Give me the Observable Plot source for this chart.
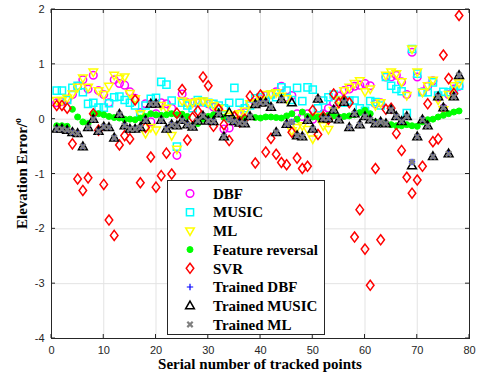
<!DOCTYPE html>
<html>
<head>
<meta charset="utf-8">
<script src="https://cdn.jsdelivr.net/npm/d3@7"></script>
<script src="https://cdn.jsdelivr.net/npm/@observablehq/plot@0.6"></script>
<style>
  html, body { margin: 0; padding: 0; background: #fff; }
  #chart { position: relative; width: 477px; height: 382px; }
</style>
</head>
<body>
<div id="chart"></div>
<script>
// ---- data ----
const serial = d3.range(1, 79);
const xTicks = [0, 10, 20, 30, 40, 50, 60, 70, 80];
const yTicks = [-4, -3, -2, -1, 0, 1, 2];

const dbf = [0.30,0.32,0.36,0.45,0.60,0.72,0.55,0.80,0.52,0.45,
0.30,0.72,0.65,0.62,0.50,0.38,0.12,0.28,-0.05,0.10,
0.30,0.28,0.20,-0.66,0.46,0.30,0.30,0.30,0.31,0.28,
0.22,0.18,-0.18,-0.16,0.05,0.10,0.12,0.28,0.30,0.35,
0.43,0.45,0.50,0.60,0.40,0.43,0.10,0.05,0.10,0.00,
0.05,0.10,0.20,0.30,0.42,0.52,0.55,0.60,0.62,0.65,
0.61,0.28,0.30,0.77,0.77,0.80,0.68,0.45,1.22,0.77,
0.50,0.60,0.70,0.40,0.20,0.45,0.55,0.60];

const music = [0.52,0.52,0.35,0.57,0.61,0.49,0.28,0.30,0.21,0.21,
0.29,0.40,0.41,0.35,0.30,0.25,0.07,0.25,0.37,0.39,
0.68,0.63,0.34,-0.50,0.30,0.25,0.20,0.35,0.32,0.30,
0.28,0.25,0.20,0.30,0.57,0.30,0.20,0.25,0.38,0.40,
0.35,0.45,0.40,0.58,0.52,0.35,0.57,0.33,0.58,0.54,
0.20,0.34,0.40,0.45,0.35,0.30,0.34,0.34,0.20,0.15,
0.33,0.31,0.25,0.77,0.61,0.55,0.51,0.11,1.28,0.83,
0.49,0.49,0.67,0.43,0.50,0.49,0.52,0.61];

const ml = [0.34,0.34,0.38,0.46,0.58,0.75,0.58,0.86,0.52,0.45,
0.60,0.80,0.74,0.77,0.47,0.37,0.10,-0.26,-0.15,-0.20,
0.25,0.20,-0.30,-0.55,0.33,0.29,0.30,0.32,0.33,0.30,
0.25,0.20,0.10,0.05,0.07,0.10,0.15,0.28,0.30,0.35,
0.45,0.46,0.48,0.42,0.37,-0.21,-0.15,-0.12,-0.19,-0.36,
0.05,-0.12,-0.19,0.16,0.35,0.52,0.58,0.65,0.70,0.50,
0.55,0.25,0.30,0.80,0.86,0.83,0.68,0.43,1.28,0.86,
0.49,0.61,0.71,0.35,0.17,0.45,0.61,0.66];

const featureReversal = [-0.12,-0.12,-0.13,0.18,0.04,-0.05,-0.08,0.10,0.10,0.08,
0.05,0.03,0.02,0.00,0.00,-0.01,0.02,0.05,0.10,0.08,
0.07,0.08,0.10,0.08,0.09,0.05,-0.12,-0.08,0.00,0.05,
0.08,0.10,0.03,0.00,-0.02,0.00,0.02,0.05,0.03,0.02,
0.04,0.04,0.03,0.02,0.06,0.10,0.00,0.13,0.05,0.04,
0.04,0.05,0.07,0.06,0.04,0.05,0.06,0.08,0.12,0.16,
0.10,-0.05,-0.06,-0.08,-0.10,-0.12,-0.12,-0.10,-0.12,-0.13,
-0.05,-0.01,0.00,0.04,0.07,0.10,0.13,0.15];

const svr = [0.25,0.25,0.20,-0.45,-1.09,-1.30,-1.07,0.10,-0.20,-1.19,
-1.84,-2.12,-0.47,-0.30,-0.36,0.35,-1.16,-0.15,-0.69,-1.24,
-1.03,-0.62,-1.00,0.11,0.54,-0.38,0.03,0.15,0.77,0.61,
-0.13,0.18,-0.10,-0.39,0.05,-0.05,0.00,0.42,-0.80,0.44,
-0.60,-0.35,-0.64,-0.79,-0.83,-0.24,-0.71,-0.90,-0.86,0.16,
-0.28,0.05,0.00,0.46,0.30,0.35,0.30,-2.15,-1.65,-2.37,
-3.03,-0.90,-2.20,0.18,0.20,-0.26,-0.57,-1.06,-1.35,-1.11,
-0.86,0.28,-0.41,-0.36,1.17,0.74,0.47,1.89];

const trainedDbf = [-0.18,-0.18,-0.20,-0.24,-0.26,-0.50,-0.15,0.00,-0.22,-0.14,
-0.15,-0.34,0.09,-0.12,-0.18,-0.18,-0.15,-0.02,0.28,0.28,
-0.02,-0.18,-0.10,-0.12,-0.02,-0.10,-0.14,-0.03,0.06,-0.03,
-0.04,0.10,-0.32,0.00,-0.04,-0.07,-0.08,0.05,0.27,0.30,
0.30,0.22,-0.24,0.36,-0.09,-0.05,-0.30,-0.32,-0.02,-0.18,
0.37,0.01,0.01,0.17,-0.01,0.31,-0.15,0.10,-0.10,0.05,
-0.01,-0.08,-0.05,-0.08,0.17,0.05,-0.04,0.05,-0.78,-0.32,
-0.01,-0.12,-0.68,0.41,0.21,-0.63,0.41,0.80];

const trainedMusic = [-0.18,-0.18,-0.20,-0.24,-0.26,-0.50,-0.15,0.00,-0.22,-0.14,
-0.15,-0.34,0.09,-0.12,-0.18,-0.18,-0.15,-0.02,0.28,0.28,
-0.02,-0.18,-0.10,-0.12,-0.02,-0.10,-0.14,-0.03,0.06,-0.03,
-0.04,0.10,-0.32,0.12,-0.04,-0.07,-0.08,0.05,0.27,0.30,
0.30,0.22,-0.24,0.36,-0.09,0.30,-0.30,-0.32,-0.02,-0.18,
0.37,0.01,0.01,0.17,-0.01,0.31,-0.15,0.10,-0.10,0.05,
-0.01,-0.08,-0.05,-0.08,0.17,0.05,-0.04,0.05,-0.85,-0.32,
-0.01,-0.12,-0.68,0.41,0.21,-0.63,0.41,0.80];

const trainedMl = [-0.18,-0.18,-0.20,-0.24,-0.26,-0.50,-0.15,0.00,-0.22,-0.14,
-0.15,-0.34,0.09,-0.12,-0.18,-0.18,-0.15,-0.02,0.28,0.28,
-0.02,-0.18,-0.10,-0.12,-0.02,-0.10,-0.14,-0.03,0.06,-0.03,
-0.04,0.10,-0.32,0.00,-0.04,-0.07,-0.08,0.05,0.27,0.30,
0.30,0.22,-0.24,0.36,-0.09,-0.05,-0.30,-0.32,-0.02,-0.18,
0.37,0.01,0.01,0.17,-0.01,0.31,-0.15,0.10,-0.10,0.05,
-0.01,-0.08,-0.05,-0.08,0.17,0.05,-0.04,0.05,-0.78,-0.32,
-0.01,-0.12,-0.68,0.41,0.21,-0.63,0.41,0.80];

const seriesNames = ["DBF", "MUSIC", "ML", "Feature reversal", "SVR", "Trained DBF", "Trained MUSIC", "Trained ML"];

// ---- custom marker shapes (MATLAB-like) ----
const circle = {draw(ctx, size) { const r = Math.sqrt(size / Math.PI);
  ctx.moveTo(r, 0); ctx.arc(0, 0, r, 0, 2 * Math.PI); }};
const triDown = {draw(ctx, size) { const r = Math.sqrt(size / Math.PI);
  ctx.moveTo(-r, -0.7 * r); ctx.lineTo(r, -0.7 * r); ctx.lineTo(0, 1.05 * r); ctx.closePath(); }};
const triUp = {draw(ctx, size) { const r = Math.sqrt(size / Math.PI);
  ctx.moveTo(0, -1.05 * r); ctx.lineTo(r, 0.7 * r); ctx.lineTo(-r, 0.7 * r); ctx.closePath(); }};
const diamond = {draw(ctx, size) { const r = Math.sqrt(size / Math.PI);
  ctx.moveTo(0, -1.2 * r); ctx.lineTo(0.9 * r, 0); ctx.lineTo(0, 1.2 * r); ctx.lineTo(-0.9 * r, 0); ctx.closePath(); }};
const square = {draw(ctx, size) { const r = Math.sqrt(size / Math.PI) * 0.85;
  ctx.moveTo(-r, -r); ctx.lineTo(r, -r); ctx.lineTo(r, r); ctx.lineTo(-r, r); ctx.closePath(); }};
const plus = {draw(ctx, size) { const r = Math.sqrt(size / Math.PI);
  ctx.moveTo(-r, 0); ctx.lineTo(r, 0); ctx.moveTo(0, -r); ctx.lineTo(0, r); }};
const times = {draw(ctx, size) { const r = Math.sqrt(size / Math.PI) * 0.75;
  ctx.moveTo(-r, -r); ctx.lineTo(r, r); ctx.moveTo(-r, r); ctx.lineTo(r, -r); }};

const styles = [
  {symbol: circle, r: 3.8, stroke: "#ff00ff", fill: "none", strokeWidth: 1.5},
  {symbol: square, r: 4.2, stroke: "#00ffff", fill: "none", strokeWidth: 1.5},
  {symbol: triDown, r: 4.3, stroke: "#ffff00", fill: "none", strokeWidth: 1.5},
  {symbol: circle, r: 3.0, stroke: "#00ff00", fill: "#00ff00", strokeWidth: 1},
  {symbol: diamond, r: 4.2, stroke: "#ff0000", fill: "none", strokeWidth: 1.5},
  {symbol: plus, r: 3.2, stroke: "#0000ff", fill: "none", strokeWidth: 1.2},
  {symbol: triUp, r: 4.4, stroke: "#000000", fill: "none", strokeWidth: 1.5},
  {symbol: times, r: 3.6, stroke: "#808080", fill: "none", strokeWidth: 2.2}
];
const seriesValues = [dbf, music, ml, featureReversal, svr, trainedDbf, trainedMusic, trainedMl];

const chart = Plot.plot({
  width: 477, height: 382,
  marginLeft: 51, marginRight: 8, marginTop: 9, marginBottom: 44,
  style: {fontFamily: "'Liberation Sans', Arial, sans-serif", fontSize: "11px", color: "#262626", background: "#fff"},
  x: {domain: [0, 80], ticks: xTicks, label: null},
  y: {domain: [-4, 2], ticks: yTicks, label: null},
  marks: [
    Plot.gridX(xTicks, {stroke: "#e3e3e3", strokeOpacity: 1}),
    Plot.gridY(yTicks, {stroke: "#e3e3e3", strokeOpacity: 1}),
    Plot.axisX(xTicks, {tickSize: 0, tickPadding: 8, fill: "#262626", fontSize: 11, tickFormat: d => String(d)}),
    Plot.axisY(yTicks, {tickSize: 0, tickPadding: 7, fill: "#262626", fontSize: 11, tickFormat: d => String(d)}),
    ...seriesValues.map((vals, k) =>
      Plot.dot(serial, {x: serial, y: vals, ...styles[k]})),
    Plot.frame({stroke: "#262626", strokeWidth: 1})
  ]
});
document.getElementById("chart").appendChild(chart);

// ---- inward ticks on all four sides, using the plot's scales ----
const sx = chart.scale("x"), sy = chart.scale("y");
const svg = d3.select(chart);
const L = sx.apply(0), R = sx.apply(80), T = sy.apply(2), B = sy.apply(-4);
const tg = svg.append("g").attr("stroke", "#262626").attr("stroke-width", 1);
xTicks.forEach(v => {
  const px = sx.apply(v);
  tg.append("line").attr("x1", px).attr("x2", px).attr("y1", B).attr("y2", B - 4);
  tg.append("line").attr("x1", px).attr("x2", px).attr("y1", T).attr("y2", T + 4);
});
yTicks.forEach(v => {
  const py = sy.apply(v);
  tg.append("line").attr("x1", L).attr("x2", L + 4).attr("y1", py).attr("y2", py);
  tg.append("line").attr("x1", R).attr("x2", R - 4).attr("y1", py).attr("y2", py);
});

// ---- axis titles ----
const serif = "'Liberation Serif', 'Times New Roman', serif";
svg.append("text")
  .attr("x", (L + R) / 2).attr("y", 369)
  .attr("text-anchor", "middle").attr("font-family", serif)
  .attr("font-weight", "bold").attr("font-size", 15).attr("fill", "#000")
  .text("Serial number of tracked points");
const yl = svg.append("text")
  .attr("transform", `translate(27,${(T + B) / 2}) rotate(-90)`)
  .attr("text-anchor", "middle").attr("font-family", serif)
  .attr("font-weight", "bold").attr("font-size", 15).attr("fill", "#000");
yl.append("tspan").text("Elevation Error/");
yl.append("tspan").attr("dy", -6).attr("font-size", 10).text("o");

// ---- legend ----
const lg = svg.append("g").attr("text-anchor", "start");
lg.append("rect").attr("x", 167.5).attr("y", 180.5).attr("width", 157).attr("height", 154)
  .attr("fill", "#fff").attr("stroke", "#262626").attr("stroke-width", 1);
seriesNames.forEach((name, k) => {
  const yy = 193.5 + k * 18.7;
  const st = styles[k];
  lg.append("path")
    .attr("transform", `translate(190,${yy})`)
    .attr("d", d3.symbol(st.symbol, Math.PI * st.r * st.r)())
    .attr("fill", st.fill).attr("stroke", st.stroke).attr("stroke-width", st.strokeWidth);
  lg.append("text").attr("x", 213).attr("y", yy).attr("dy", "0.35em")
    .attr("text-anchor", "start")
    .attr("font-family", serif).attr("font-weight", "bold").attr("font-size", 15)
    .attr("fill", "#000").text(name);
});
</script>
</body>
</html>
